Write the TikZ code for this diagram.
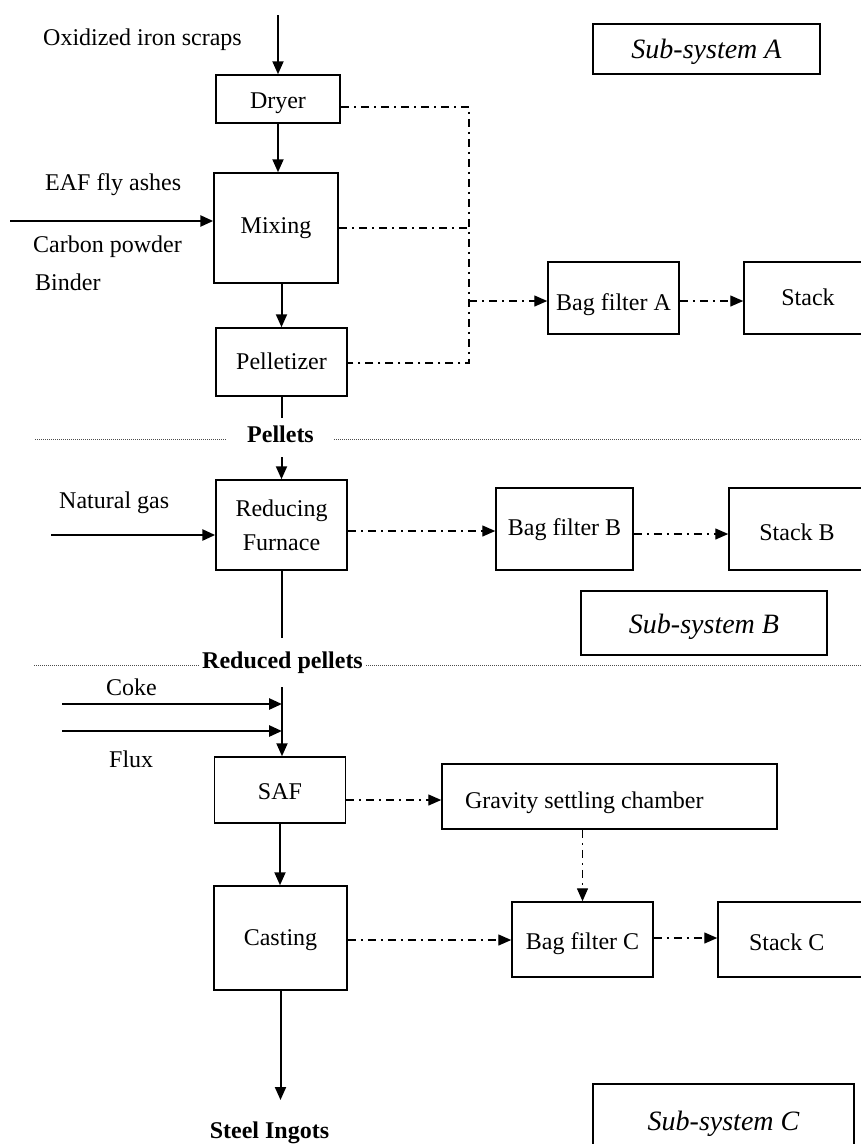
\documentclass[tikz,border=0pt]{standalone}
\usepackage{fontspec}
\setmainfont{Liberation Serif}
\usetikzlibrary{arrows.meta}

\tikzset{
  % process units; "tb" sets the text height, which fixes the baseline inside the box
  unit/.style={draw, line width=1.5pt, inner sep=0pt, align=center,
               font=\fontsize{24}{34}\selectfont},
  tb/.style={text height=#1, text depth=5pt},
  subsys/.style={draw, line width=1.5pt, inner sep=0pt,
                 font=\fontsize{28}{34}\selectfont\itshape},
  lbl/.style={inner sep=0pt, font=\fontsize{24}{28}\selectfont},
  stage/.style={inner ysep=0pt, font=\fontsize{24}{28}\selectfont\bfseries},
  tip/.style={-{Triangle[length=13pt,width=11pt]}},
  feed/.style={tip, line width=2pt},
  inflow/.style={tip, line width=2.6pt},
  gas/.style={line width=1.4pt, dash pattern=on 8pt off 5pt on 2pt off 5pt},
  gasarrow/.style={gas, tip},
  divider/.style={line width=1pt, black!70, dash pattern=on 1pt off 1pt}
}

\begin{document}
\begin{tikzpicture}[x=1pt, y=-1pt]
\useasboundingbox (0,0) rectangle (861,1144);

% ---------- Sub-system A: pellet preparation ----------
\node[subsys, minimum width=227pt, minimum height=50pt, tb=23pt] (subA) at (706.5,49) {Sub-system A};

\node[unit, minimum width=124pt, minimum height=48pt, tb=23pt] (dryer) at (278,99) {Dryer};
\node[unit, minimum width=124pt, minimum height=110pt, tb=15pt] (mixing) at (276,228) {Mixing};
\node[unit, minimum width=131pt, minimum height=68pt, tb=19pt] (pelletizer) at (281.5,362) {Pelletizer};
\node[unit, minimum width=131pt, minimum height=72pt, tb=29pt] (bagA) at (613.5,298) {Bag filter A};
\node[unit, minimum width=128pt, minimum height=72pt, tb=19pt] (stackA) at (808,298) {Stack};

\node[lbl, anchor=base west] (scraps) at (43,45) {Oxidized iron scraps};
\node[lbl, anchor=base west] (ashes) at (45,190) {EAF fly ashes};
\node[lbl, anchor=base west] (carbon) at (33,252) {Carbon powder};
\node[lbl, anchor=base west] (binder) at (35,290) {Binder};

\coordinate (top0) at (278,15);
\coordinate (eaf0) at (10,221);
\draw[feed] (top0) -- (dryer.north);
\draw[feed] (dryer.south) -- (dryer.south |- mixing.north);
\draw[inflow] (eaf0) -- (eaf0 -| mixing.west);
\draw[feed] (pelletizer.north |- mixing.south) -- (pelletizer.north);

% dust collection header
\coordinate (ca) at (469,107);
\coordinate (cb) at (469,363);
\coordinate (cA) at (469,301);
\draw[gas] (dryer.east |- ca) -- (ca) -- (cb) -- (cb -| pelletizer.east);
\draw[gas] (mixing.east) -- (mixing.east -| ca);
\draw[gasarrow] (cA) -- (cA -| bagA.west);
\draw[gasarrow] (bagA.east |- cA) -- (stackA.west |- cA);

% ---------- Pellets ----------
\node[stage, inner xsep=20pt, anchor=base] (pellets) at (280.5,442) {Pellets};
\coordinate (divAL) at (35,439);
\coordinate (divAR) at (861,439);
\draw[divider] (divAL) -- (divAL -| pellets.west);
\draw[divider] (pellets.east |- divAR) -- (divAR);
\coordinate (pel1) at (281.5,418);
\coordinate (pel2) at (281.5,457);
\draw[line width=2pt] (pelletizer.south) -- (pel1);

% ---------- Sub-system B: reduction ----------
\node[unit, minimum width=131pt, minimum height=90pt] (furnace) at (281.5,525) {Reducing\\Furnace};
\node[unit, minimum width=137pt, minimum height=82pt, tb=17pt] (bagB) at (564.5,529) {Bag filter B};
\node[unit, minimum width=136pt, minimum height=82pt, tb=27pt] (stackB) at (797,529) {Stack B};
\node[subsys, minimum width=246pt, minimum height=64pt, tb=25pt] (subB) at (704,623) {Sub-system B};

\node[lbl, anchor=base west] (gaslbl) at (59,508) {Natural gas};
\coordinate (ng0) at (51,535);
\draw[feed] (pel2) -- (furnace.north);
\draw[inflow] (ng0) -- (ng0 -| furnace.west);

\coordinate (gB) at (0,531);
\coordinate (gB2) at (0,534);
\draw[gasarrow] (furnace.east |- gB) -- (bagB.west |- gB);
\draw[gasarrow] (bagB.east |- gB2) -- (stackB.west |- gB2);

% ---------- Reduced pellets ----------
\node[stage, inner xsep=3pt, anchor=base] (reduced) at (282.5,668) {Reduced pellets};
\coordinate (divBL) at (34,665);
\coordinate (divBR) at (861,665);
\draw[divider] (divBL) -- (divBL -| reduced.west);
\draw[divider] (reduced.east |- divBR) -- (divBR);
\coordinate (red1) at (281.5,638);
\draw[line width=2pt] (furnace.south) -- (red1);

% ---------- Sub-system C: smelting and casting ----------
\node[unit, minimum width=131pt, minimum height=66pt, tb=23pt] (saf) at (280,790) {SAF};
\node[unit, minimum width=335pt, minimum height=65pt, text width=289pt, align=flush left, tb=28pt] (gravity) at (609.5,796.5) {Gravity settling chamber};
\node[unit, minimum width=133pt, minimum height=104pt, tb=19pt] (casting) at (280.5,938) {Casting};
\node[unit, minimum width=141pt, minimum height=75pt, tb=24pt] (bagC) at (582.5,939.5) {Bag filter C};
\node[unit, minimum width=148pt, minimum height=75pt, text width=86pt, align=flush left, tb=26pt] (stackC) at (792,939.5) {Stack C};
\node[subsys, minimum width=261pt, minimum height=76pt, tb=21pt] (subC) at (723.5,1122) {Sub-system C};

\node[lbl, anchor=base west] (coke) at (106,695) {Coke};
\node[lbl, anchor=base west] (flux) at (109,767) {Flux};
\node[stage, inner xsep=0pt, anchor=base] (ingots) at (269.5,1138) {Steel Ingots};

\coordinate (cv) at (282,687);
\coordinate (coke0) at (62,704);
\coordinate (flux0) at (62,731);
\coordinate (ingot1) at (280.5,1100);
\draw[feed] (cv) -- (cv |- saf.north);
\draw[inflow] (coke0) -- (coke0 -| cv);
\draw[inflow] (flux0) -- (flux0 -| cv);
\draw[feed] (saf.south) -- (saf.south |- casting.north);
\draw[feed] (casting.south) -- (ingot1);

\coordinate (gC) at (0,800);
\coordinate (gD) at (0,940);
\coordinate (gE) at (0,938);
\draw[gasarrow] (saf.east |- gC) -- (gravity.west |- gC);
\draw[gasarrow] (gravity.south -| bagC.north) -- (bagC.north);
\draw[gasarrow] (casting.east |- gD) -- (bagC.west |- gD);
\draw[gasarrow] (bagC.east |- gE) -- (stackC.west |- gE);
\end{tikzpicture}
\end{document}
